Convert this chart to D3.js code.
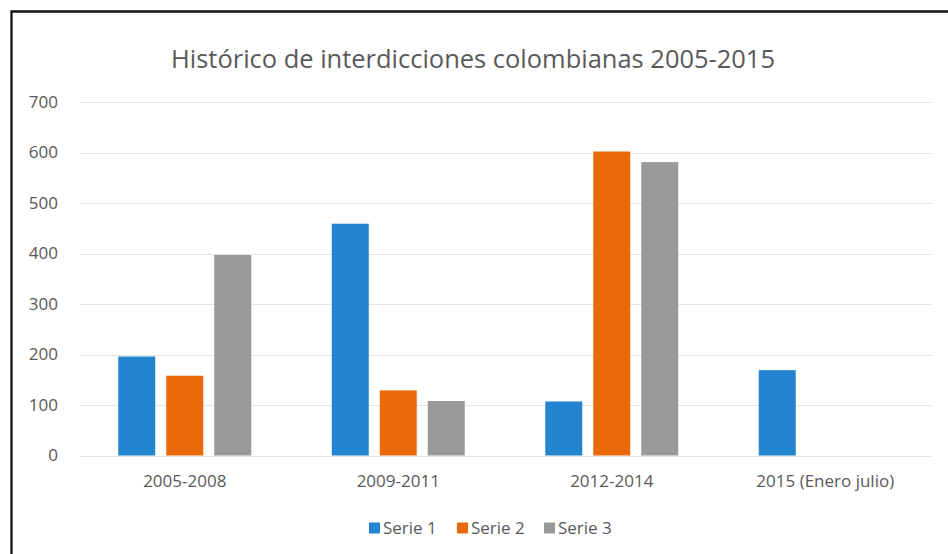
<!DOCTYPE html>
<html>
<head>
<meta charset="utf-8">
<script src="https://cdn.jsdelivr.net/npm/d3@7"></script>
<style>
  body { margin: 0; background: #fff; overflow: hidden; }
  svg { display: block; }
  svg text { font-family: "Open Sans", "Noto Sans", sans-serif; fill: #595959; }
</style>
</head>
<body>
<div class="barChart"></div>
<script>
var categories = ["2005-2008", "2009-2011", "2012-2014", "2015 (Enero julio)"];
var seriesNames = ["Serie 1", "Serie 2", "Serie 3"];
var serie1 = [196, 459, 107, 169];
var serie2 = [158, 129, 602, null];
var serie3 = [397, 108, 581, null];
var yTicks = [0, 100, 200, 300, 400, 500, 600, 700];
var colors = ["#2385d0", "#ea6a0b", "#999999"];

document.addEventListener('DOMContentLoaded', function() {
    barChart();
});

function barChart() {
    var width = 948, height = 554;
    var margin = {top: 102, right: 16, bottom: 98.5, left: 78};

    var svg = d3.select(".barChart")
        .append("svg")
            .attr("width", width)
            .attr("height", height);

    // outer frame: only top and left edges are visible in the screenshot
    svg.append("path")
        .attr("d", "M11.5," + height + "V11.5H" + width)
        .attr("fill", "none")
        .attr("stroke", "#111")
        .attr("stroke-width", 2.3);

    var values = seriesNames.map(function(s, i) {
        var arr = [serie1, serie2, serie3][i];
        return categories.map(function(c, j) { return {cat: c, serie: s, value: arr[j]}; });
    });

    var x = d3.scaleBand()
        .domain(categories)
        .range([margin.left, width - margin.right])
        .padding(0);

    var xInner = d3.scaleBand()
        .domain(seriesNames)
        .range([x.bandwidth() / 2 - 66.5, x.bandwidth() / 2 + 66.5])
        .paddingInner(11 / 48)
        .paddingOuter(0);

    var y = d3.scaleLinear()
        .domain([0, 700])
        .range([height - margin.bottom, margin.top]);

    // gridlines
    svg.append("g")
        .selectAll("line")
        .data(yTicks)
        .enter().append("line")
            .attr("x1", margin.left + 2)
            .attr("x2", width - margin.right)
            .attr("y1", function(d) { return Math.round(y(d)) + 0.5; })
            .attr("y2", function(d) { return Math.round(y(d)) + 0.5; })
            .attr("stroke", "#e3e3e3")
            .attr("stroke-width", 1.2);

    // Y axis labels
    var yAxis = svg.append("g")
        .attr("transform", "translate(58,0)")
        .call(d3.axisLeft(y).tickValues(yTicks).tickSize(0).tickPadding(0));
    yAxis.select(".domain").remove();
    yAxis.selectAll("text")
        .style("font-size", "17px")
        .attr("fill", "#595959");

    // bars
    svg.append("g")
        .selectAll("g")
        .data(values)
        .enter().append("g")
            .attr("fill", function(d, i) { return colors[i]; })
        .selectAll("rect")
        .data(function(d) { return d.filter(function(v) { return v.value != null; }); })
        .enter().append("rect")
            .attr("x", function(d) { return x(d.cat) + xInner(d.serie); })
            .attr("width", xInner.bandwidth())
            .attr("y", function(d) { return y(d.value); })
            .attr("height", function(d) { return y(0) - y(d.value); });

    // X axis labels
    var xAxis = svg.append("g")
        .attr("transform", "translate(0," + y(0) + ")")
        .call(d3.axisBottom(x).tickSize(0).tickPadding(19));
    xAxis.select(".domain").remove();
    xAxis.selectAll("text")
        .style("font-size", "17px")
        .attr("fill", "#595959");

    // title
    svg.append("text")
        .attr("x", 473)
        .attr("y", 68)
        .attr("text-anchor", "middle")
        .attr("fill", "#444")
        .style("font-size", "26px")
        .attr("textLength", 604)
        .attr("lengthAdjust", "spacingAndGlyphs")
        .text("Histórico de interdicciones colombianas 2005-2015");

    // legend
    var legendX = [369, 457, 544];
    var legend = svg.append("g")
        .selectAll("g")
        .data(seriesNames)
        .enter().append("g")
            .attr("transform", function(d, i) { return "translate(" + legendX[i] + ",528)"; });
    legend.append("rect")
        .attr("x", 0)
        .attr("y", -5.5)
        .attr("width", 11)
        .attr("height", 11)
        .attr("fill", function(d, i) { return colors[i]; });
    legend.append("text")
        .attr("x", 14)
        .attr("y", 6)
        .style("font-size", "17px")
        .text(function(d) { return d; });
}
</script>
</body>
</html>
